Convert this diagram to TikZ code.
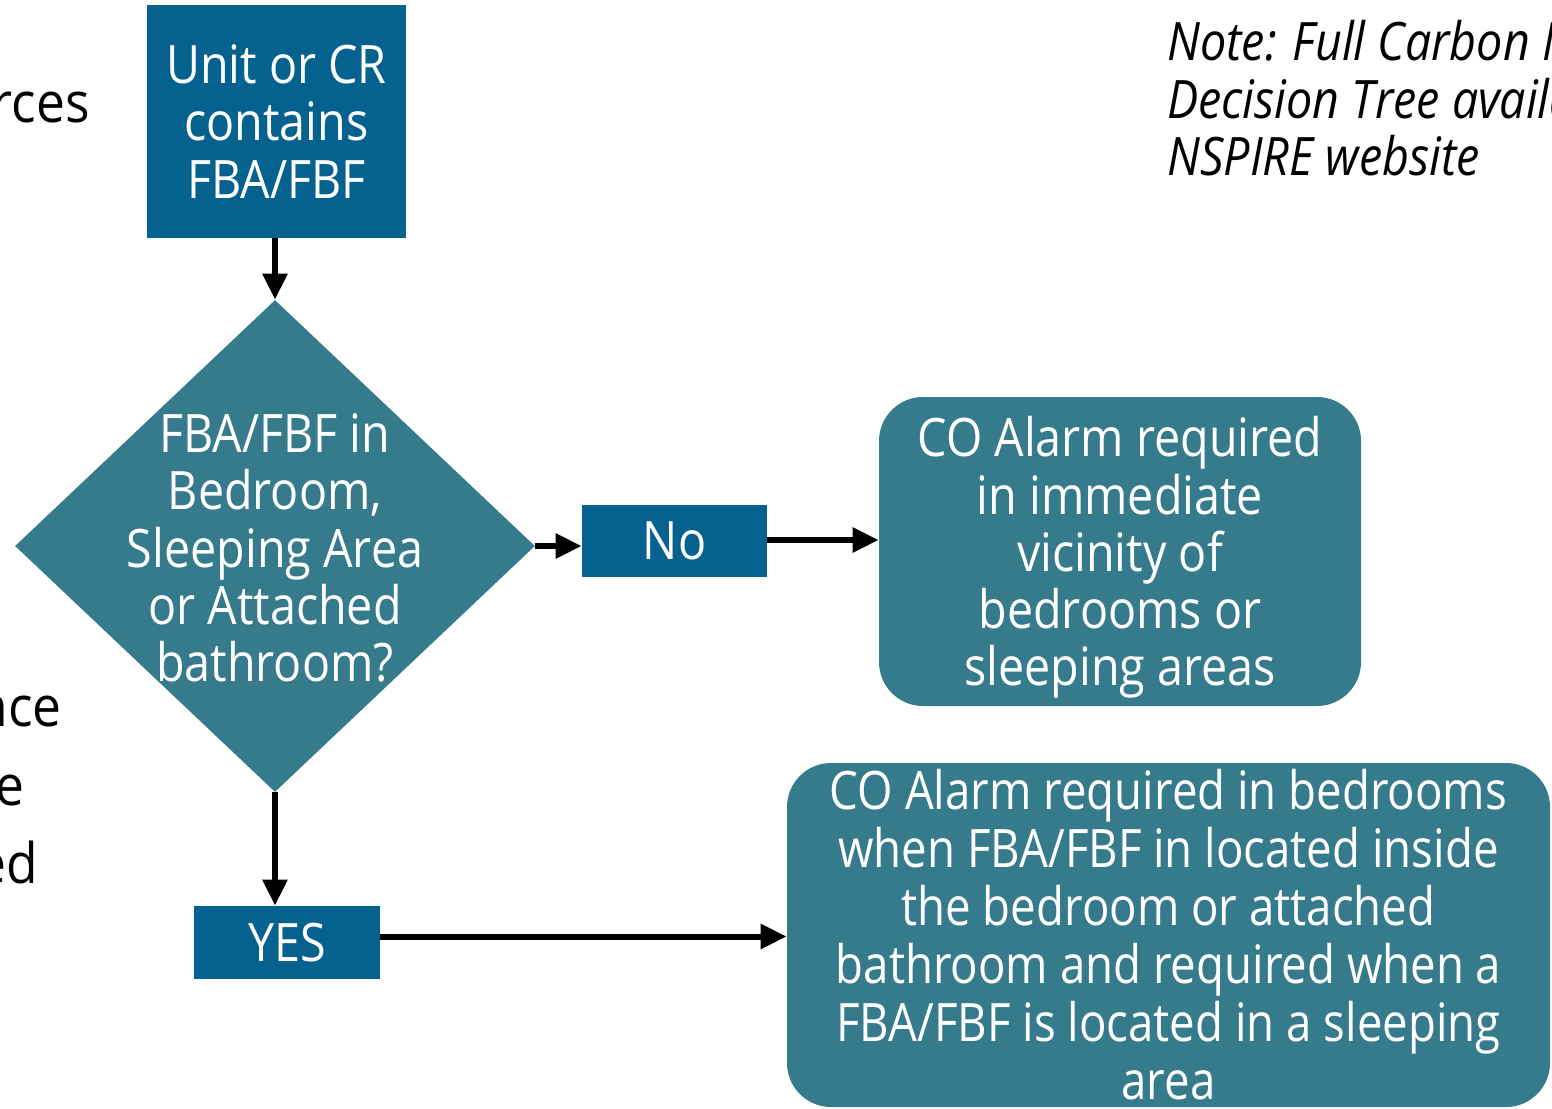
\documentclass[tikz,border=0pt]{standalone}
\usepackage{fontspec}
\setmainfont{Open Sans}[FakeStretch=0.88]
\newfontfamily\condfont{Open Sans}[FakeStretch=0.86]
\newfontfamily\leftfont{Open Sans}[FakeStretch=0.92]
\usetikzlibrary{arrows.meta,shapes.geometric,calc}
\definecolor{boxblue}{RGB}{5,98,143}
\definecolor{teal}{RGB}{54,123,140}
\tikzset{
  big/.style={font=\fontsize{26.5pt}{28.6pt}\selectfont},
  sqbox/.style={rectangle, fill=boxblue, text=white, inner sep=0pt, align=center, big},
  rbox/.style={rectangle, rounded corners=22pt, fill=teal, text=white, inner sep=0pt, align=center, big},
  dia/.style={diamond, fill=teal, inner sep=0pt},
  dtext/.style={text=white, inner sep=0pt, align=center, big},
  arr/.style={-{Triangle[length=13pt,width=12pt]}, line width=3pt, black},
  frag/.style={inner sep=0pt, text=black, font=\leftfont\fontsize{28pt}{30pt}\selectfont},
  note/.style={inner sep=0pt, align=left, text=black, font=\itshape\fontsize{26.5pt}{28.7pt}\selectfont}
}
\begin{document}
\begin{tikzpicture}[x=0.5pt,y=-0.5pt]
\useasboundingbox (0,0) rectangle (1552,1108);
\clip (0,0) rectangle (1552,1108);
\fill[white] (0,0) rectangle (1552,1108);
% left fragments (cut off by the picture's left edge)
\node[frag, anchor=base east] (f1) at (90,122) {rces};
\node[frag, anchor=base east] (f2) at (62,726) {nce};
\node[frag, anchor=base east] (f3) at (25,805) {e};
\node[frag, anchor=base east] (f4) at (38,883) {ed};
% note
\node[note, anchor=north west] (note) at (1167,20) {Note: Full Carbon Monoxide\\Decision Tree available on\\NSPIRE website};
% boxes
\node[sqbox, minimum width=129.5pt, minimum height=116.5pt] (top) at (276.5,121.5) {Unit or CR\\contains\\FBA/FBF};
\node[dia, minimum width=260pt, minimum height=246pt] (d) at (275,546) {};
\node[dtext] (dt) at (275,548) {FBA/FBF in\\Bedroom,\\Sleeping Area\\or Attached\\bathroom?};
\node[sqbox, minimum width=92.5pt, minimum height=36pt] (no) at (674.5,541) {No};
\node[rbox, minimum width=241pt, minimum height=154.5pt] (up) at (1120,551.5) {};
\node[dtext] (uptext) at (1120,557.5) {CO Alarm required\\in immediate\\vicinity of\\bedrooms or\\sleeping areas};
\node[sqbox, minimum width=93pt, minimum height=36.5pt] (yes) at (287,942.5) {YES};
\node[rbox, minimum width=381.5pt, minimum height=172pt, font=\condfont\fontsize{26.5pt}{29pt}\selectfont] (low) at (1168.5,935) {CO Alarm required in bedrooms\\when FBA/FBF in located inside\\the bedroom or attached\\bathroom and required when a\\FBA/FBF is located in a sleeping\\area};
% connectors
\draw[arr] (top.south -| d.north) -- (d.north);
\draw[arr] (d.east) -- (d.east -| no.west);
\draw[arr] ([yshift=0.5pt]no.east) -- ([yshift=0.5pt]no.east -| up.west);
\draw[arr] (d.south) -- (d.south |- yes.north);
\draw[arr] ([yshift=3pt]yes.east) -- ([yshift=3pt]yes.east -| low.west);
\end{tikzpicture}
\end{document}
